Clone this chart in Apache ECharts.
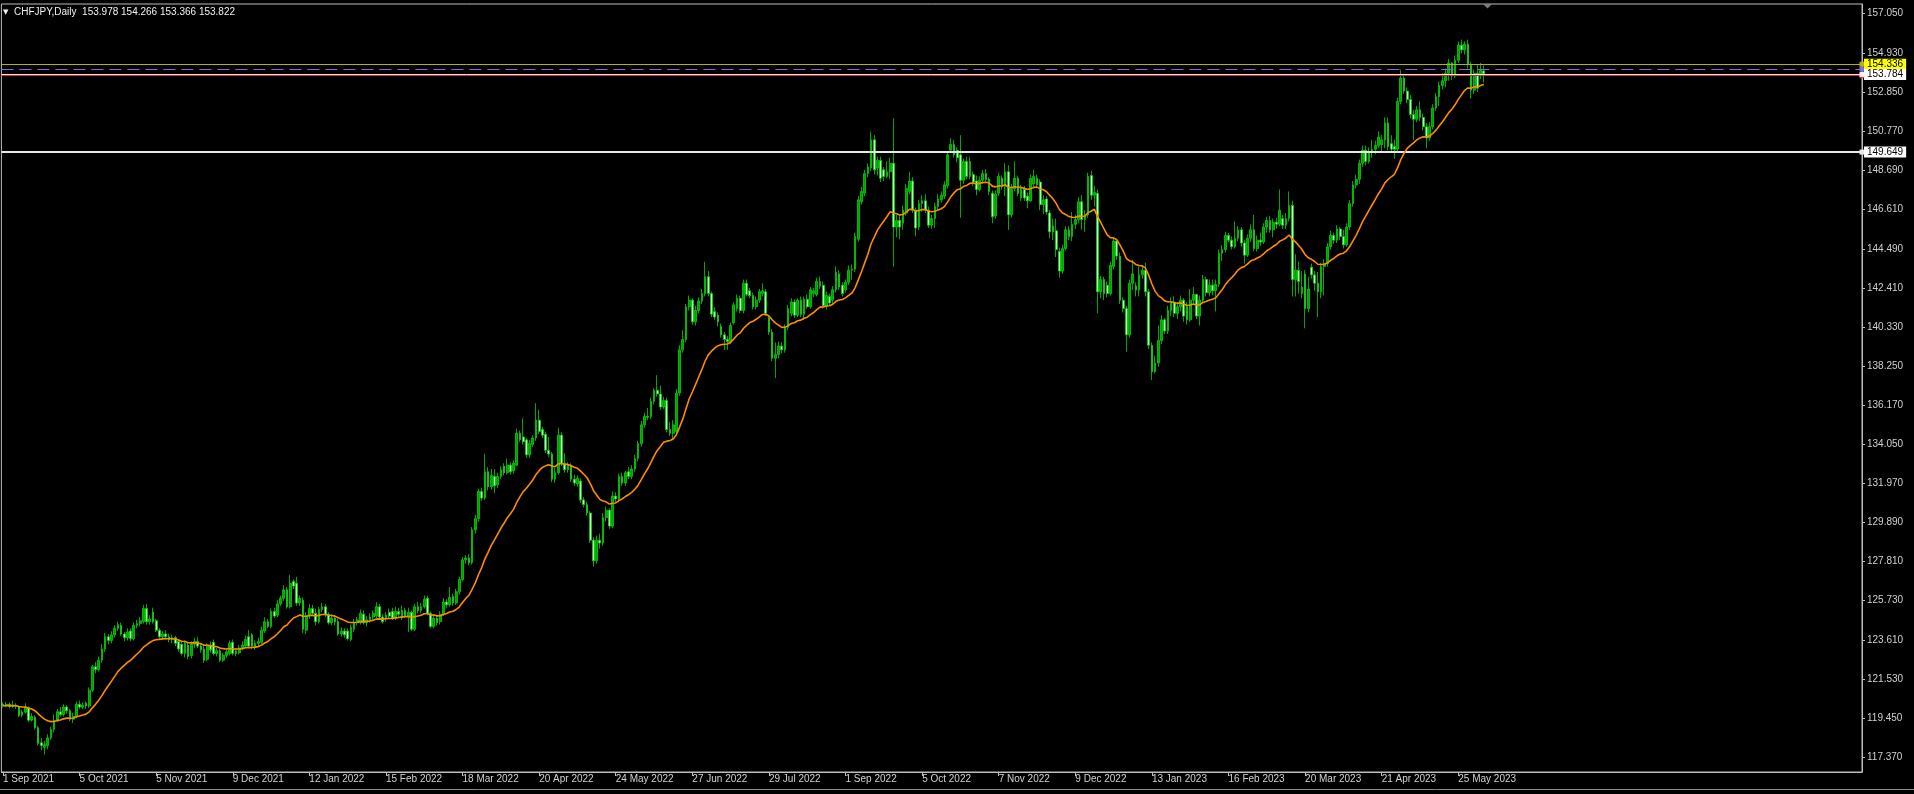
<!DOCTYPE html>
<html><head><meta charset="utf-8">
<script src="https://cdn.jsdelivr.net/npm/echarts@6/dist/echarts.min.js"></script>
<style>html,body{margin:0;padding:0;background:#000;overflow:hidden}#chart{width:1914px;height:794px}</style>
</head><body><div id="chart"></div>
<script>
const symbolName = 'CHFJPY,Daily';
const tickLabels = ['1 Sep 2021','5 Oct 2021','5 Nov 2021','9 Dec 2021','12 Jan 2022','15 Feb 2022','18 Mar 2022','20 Apr 2022','24 May 2022','27 Jun 2022','29 Jul 2022','1 Sep 2022','5 Oct 2022','7 Nov 2022','9 Dec 2022','13 Jan 2023','16 Feb 2023','20 Mar 2023','21 Apr 2023','25 May 2023'];
const barsPerLabel = 24;
const yTickValues = [117.370,119.450,121.530,123.610,125.730,127.810,129.890,131.970,134.050,136.170,138.250,140.330,142.410,144.490,146.610,148.690,150.770,152.850,154.930,157.050];
const levelYellow = 154.336;
const levelDashed = 154.07;
const levelBid = 153.784;
const levelRed = 153.725;
const levelWhite = 149.649;
const maPeriod = 21;

// [open, high, low, close]
const ohlcPart1 = [
[120.20,120.30,120.02,120.12],[120.12,120.33,120.05,120.20],[120.20,120.30,119.98,120.08],[120.08,120.38,120.00,120.15],[120.15,120.25,119.95,120.10],
[120.05,120.12,119.52,119.60],[119.62,119.90,119.50,119.78],[119.78,120.25,119.70,120.05],[120.02,120.08,119.25,119.35],[119.35,119.72,119.28,119.55],
[119.50,119.60,118.85,118.95],[118.95,119.05,118.00,118.12],[118.15,118.40,117.75,118.00],[117.90,118.25,117.52,118.05],[118.00,118.60,117.80,118.40],
[118.40,119.00,118.30,118.85],[118.85,119.65,118.70,119.35],[119.35,119.95,119.25,119.80],[119.80,120.05,119.55,119.65],[119.65,120.20,119.55,120.05],
[120.05,120.15,119.70,119.85],[119.85,119.95,119.30,119.40],[119.40,119.75,119.20,119.55],[119.55,120.35,119.45,120.20],[120.20,120.40,119.95,120.05],
[120.05,120.30,119.95,120.15],[120.25,120.35,119.95,120.10],[120.10,121.10,120.00,120.95],[120.95,122.30,120.85,122.20],[122.20,122.45,121.85,122.05],
[122.05,122.75,121.95,122.55],[122.55,123.40,122.40,123.15],[123.15,124.00,123.00,123.80],[123.80,123.95,123.40,123.60],[123.60,124.10,123.45,123.90],
[123.90,124.40,123.75,124.25],[124.25,124.60,124.10,124.45],[124.40,124.55,123.85,123.95],[123.95,124.05,123.55,123.75],[123.75,124.25,123.60,124.05],
[124.10,124.25,123.55,123.70],[123.70,124.55,123.60,124.40],[124.40,124.70,124.25,124.50],[124.50,124.85,124.35,124.65],[124.60,125.50,124.50,125.30],
[125.30,125.55,124.45,124.60],[124.60,124.95,124.45,124.75],[125.10,125.35,124.50,124.60],[124.65,124.75,124.05,124.15],[124.15,124.25,123.70,123.80],
[123.80,124.10,123.65,123.95],[123.95,124.15,123.65,123.80],[123.80,123.95,123.50,123.65],[123.65,123.90,123.45,123.75],[123.75,123.85,123.30,123.45],
[123.55,123.65,123.00,123.15],[123.40,123.55,122.80,122.90],[122.90,123.60,122.70,123.45],[123.35,123.50,122.60,122.75],[122.80,123.55,122.65,123.40],
[123.40,123.75,123.20,123.55],[123.55,123.80,123.20,123.30],[123.30,123.45,122.95,123.10],[123.15,123.30,122.40,122.55],[122.60,123.45,122.50,123.35],
[123.35,123.55,122.95,123.10],[123.50,123.65,122.80,122.90],[122.90,123.20,122.75,123.05],[123.05,123.15,122.45,122.55],[122.55,122.95,122.45,122.80],
[122.80,123.15,122.65,123.00],[122.90,123.60,122.80,123.45],[123.50,123.65,122.80,122.90],[122.90,123.20,122.75,123.05],[122.95,123.35,122.85,123.20],
[123.20,123.55,123.10,123.35],[123.30,123.85,123.20,123.65],[123.80,124.15,123.20,123.30]
];
const ohlcPart2 = [
[123.90,124.00,123.15,123.30],[123.30,123.60,123.10,123.45],[123.45,123.75,123.25,123.55],[123.50,124.35,123.40,124.15],[124.10,124.85,124.00,124.60],
[124.60,124.75,124.25,124.35],[124.35,125.30,124.25,125.15],[125.15,125.35,124.80,124.90],[124.95,125.75,124.85,125.55],[125.55,126.00,125.45,125.85],
[125.85,126.55,125.70,126.30],[126.30,126.45,125.30,125.40],[125.40,127.10,125.30,126.65],[126.75,126.85,126.35,126.50],[126.65,127.00,125.45,125.60],
[125.60,126.00,125.45,125.85],[125.75,125.90,124.00,124.20],[124.15,125.10,123.95,124.90],[124.90,125.55,124.75,125.30],[125.30,125.50,124.90,125.05],
[125.05,125.30,124.40,124.60],[124.60,125.40,124.50,125.25],[125.25,125.60,125.10,125.40],[125.40,125.55,124.85,125.00],[125.00,125.10,124.45,124.55],
[124.55,125.00,124.40,124.80],[124.80,124.95,124.40,124.60],[124.60,124.75,123.85,123.95],[123.95,124.30,123.80,124.10],[124.10,124.25,123.75,123.90],
[124.10,124.25,123.60,123.70],[123.65,124.45,123.55,124.30],[124.20,124.75,124.05,124.55],[124.55,124.85,124.40,124.70],[124.55,125.25,124.45,125.05],
[125.00,125.20,124.45,124.55],[124.55,124.90,124.35,124.70],[124.70,125.05,124.55,124.85],[124.85,125.20,124.70,125.05],[124.90,125.65,124.80,125.40],
[125.40,125.55,124.75,124.85],[124.85,125.00,124.50,124.60],[124.75,125.10,124.60,124.95],[125.10,125.30,124.75,124.90],[125.15,125.35,124.70,124.80],
[124.80,125.40,124.70,125.15],[125.15,125.35,124.85,125.00],[124.80,125.45,124.70,125.20],[125.20,125.35,124.80,124.90],[124.90,125.35,124.05,125.10],
[125.10,125.20,124.10,124.20],[124.20,125.55,124.10,125.40],[125.40,125.65,125.05,125.20],[125.20,125.60,125.05,125.40],[125.40,126.00,125.30,125.80],
[125.85,126.00,124.95,125.05],[125.05,125.15,124.25,124.35],[124.35,124.95,124.25,124.80],[124.80,124.95,124.40,124.55],[124.60,125.15,124.45,125.00],
[125.00,125.85,124.90,125.65],[125.65,125.80,125.35,125.50],[125.50,126.45,125.40,125.90],[125.95,126.10,125.45,125.60],[125.60,126.35,125.50,126.20],
[126.20,127.00,126.05,126.85],[126.85,128.05,126.75,127.90],[127.90,128.15,127.70,128.00],[128.00,128.20,127.60,127.75],[127.75,129.65,127.65,129.50],
[129.50,130.30,129.30,130.10],[130.10,131.70,129.95,131.55],[131.55,131.75,131.05,131.20],[131.20,133.55,131.10,132.60],[132.60,132.85,131.60,131.80],
[131.80,132.75,131.65,132.40],[132.35,132.75,131.45,131.85]
];
const ohlcPart3 = [
[131.90,132.55,131.75,132.35],[132.35,132.90,132.20,132.70],[132.90,133.05,132.40,132.55],[132.55,133.30,132.45,132.95],[132.95,133.10,132.45,132.60],
[132.65,133.20,132.50,133.05],[132.95,134.90,132.90,134.65],[134.65,134.80,134.20,134.30],[134.45,135.45,134.05,134.20],[134.30,134.40,133.35,133.50],
[133.50,134.30,133.35,134.10],[134.05,134.55,133.90,134.40],[134.40,136.25,134.25,135.35],[135.35,135.90,134.60,134.75],[134.85,135.00,134.40,134.55],
[134.60,134.75,133.60,133.75],[133.75,134.45,133.40,133.55],[133.55,133.65,132.05,132.20],[132.20,132.80,132.00,132.55],[132.55,134.95,132.45,134.55],
[134.55,134.70,132.90,133.05],[133.05,133.60,132.55,132.70],[132.70,133.10,132.55,132.95],[132.95,133.05,132.05,132.20],[132.20,132.45,131.85,132.00],
[131.95,132.40,131.80,132.25],[132.10,132.25,130.95,131.10],[131.10,131.25,130.70,130.85],[130.85,131.00,130.25,130.40],[130.40,130.50,128.80,128.95],
[128.95,129.10,127.55,127.85],[127.85,129.20,127.70,128.95],[128.95,129.30,128.50,128.80],[128.80,130.40,128.65,130.15],[130.15,130.75,129.95,130.55],
[130.55,130.65,129.55,129.70],[129.70,131.55,129.60,131.30],[131.30,131.50,130.95,131.15],[131.15,132.50,131.00,132.35],[132.35,132.55,131.85,132.00],
[132.00,132.65,131.85,132.55],[132.60,132.85,132.20,132.35],[132.35,132.95,132.20,132.75],[132.75,133.50,132.60,133.30],[133.30,134.25,133.15,134.10],
[134.10,135.30,133.95,135.10],[135.10,135.75,134.95,135.55],[135.55,136.00,135.35,135.50],[135.55,136.55,135.40,136.35],[136.35,137.05,136.20,136.95],
[136.95,137.75,136.60,136.75],[136.75,137.20,135.90,136.05],[136.05,136.60,135.95,136.40],[136.40,136.55,134.70,134.85],[134.85,135.25,134.50,134.65],
[134.65,135.35,134.30,135.10],[134.75,137.00,134.60,136.80],[136.80,139.35,136.65,139.10],[139.10,140.15,138.95,139.65],[139.65,141.55,139.50,141.40],
[141.40,142.00,141.20,141.75],[141.75,141.85,140.45,140.60],[140.60,141.45,140.40,141.20],[141.20,141.90,141.05,141.70],[141.70,142.35,141.55,142.10],
[142.10,143.80,141.95,143.00],[143.00,143.30,141.95,142.10],[142.10,142.20,140.85,141.00],[141.15,141.40,140.70,140.85],[140.95,141.10,140.35,140.60],
[140.35,140.50,139.75,139.90],[139.90,140.05,139.10,139.65],[139.65,139.85,139.10,139.55],[139.55,140.55,139.40,140.40],[140.55,141.65,140.45,141.50],
[141.30,142.05,141.15,141.85],[141.85,142.00,141.05,141.20]
];
const ohlcPart4 = [
[141.20,142.85,141.05,142.65],[142.65,142.85,141.95,142.05],[142.25,142.40,141.85,142.00],[142.00,142.15,141.25,141.40],[141.40,141.95,141.25,141.75],
[141.75,142.35,141.60,142.20],[142.10,142.65,141.95,142.25],[142.20,142.35,140.90,141.05],[140.80,140.95,139.90,140.05],[140.05,140.20,138.50,138.65],
[138.65,139.50,137.60,138.85],[138.85,139.55,138.65,139.30],[139.30,139.50,138.90,139.10],[139.10,140.45,138.95,140.25],[140.30,141.50,140.15,141.30],
[141.05,141.85,140.90,141.65],[141.65,141.80,140.80,140.95],[140.95,141.85,140.85,141.75],[141.75,141.95,140.85,141.00],[141.00,141.95,140.70,141.80],
[141.80,142.05,141.30,141.40],[141.40,142.45,141.30,142.30],[142.10,142.40,141.90,142.25],[142.05,142.95,141.95,142.75],[142.50,143.00,142.35,142.75],
[142.55,142.75,141.30,141.45],[141.45,142.20,141.25,142.00],[141.95,142.10,141.45,141.60],[141.75,142.50,141.55,142.30],[142.30,143.55,142.15,143.25],
[143.15,143.35,142.30,142.45],[142.55,142.70,141.95,142.10],[142.30,142.85,142.15,142.70],[142.70,143.60,142.55,143.35],[143.35,143.65,142.85,143.40],
[143.40,145.35,143.25,145.15],[145.00,147.30,144.85,147.10],[147.00,147.80,146.85,147.55],[147.45,148.70,147.30,148.50],[148.50,149.05,148.30,148.85],
[148.80,150.75,148.65,150.30],[150.30,150.55,148.45,148.70],[148.80,149.40,148.40,149.20],[149.20,149.40,148.05,148.25],[148.70,148.85,148.10,148.35],
[148.35,149.15,148.25,148.60],[148.60,149.35,148.20,149.05],[149.05,151.45,143.55,145.65],[145.65,146.30,145.10,146.00],[146.00,146.30,145.00,145.65],
[145.85,146.80,145.50,146.55],[146.40,147.95,146.25,147.70],[147.55,148.60,147.40,148.10],[148.10,148.30,146.40,146.55],[146.55,146.70,145.15,145.60],
[145.65,147.10,145.50,146.90],[146.90,147.35,146.45,147.05],[147.05,147.40,146.40,146.55],[146.55,146.75,145.60,145.75],[145.75,146.30,145.55,146.10],
[146.10,146.95,145.60,146.75],[146.75,147.40,146.55,147.15],[147.10,147.55,146.95,147.35],[147.30,148.10,147.15,147.90],[147.85,149.70,147.70,149.50],
[149.75,150.40,149.60,150.05],[150.05,150.30,149.35,149.50],[149.75,149.90,149.10,149.35],[149.50,150.55,146.15,148.15],[148.15,149.30,147.95,149.15],
[149.15,149.40,148.20,148.35],[148.35,149.40,148.20,149.15],[148.45,148.60,147.85,148.05],[148.10,148.40,147.35,147.65],[147.65,148.35,147.55,148.15],
[148.15,148.70,147.95,148.50]
];
const ohlcPart5 = [
[148.50,148.75,148.05,148.20],[148.20,148.30,147.35,147.55],[147.45,147.60,145.85,146.20],[146.25,147.60,146.10,147.40],[147.45,148.55,147.30,148.35],
[148.25,148.40,147.65,147.80],[147.80,149.05,147.30,148.60],[148.60,148.95,145.50,146.30],[146.30,147.95,146.15,147.70],[147.70,149.15,147.55,148.25],
[148.25,148.40,147.30,147.45],[147.20,147.90,147.05,147.70],[147.65,147.85,147.05,147.20],[147.30,147.50,146.65,147.05],[147.05,148.45,147.00,148.25],
[147.95,148.70,147.80,148.35],[148.25,148.45,147.75,147.90],[148.05,148.20,146.55,146.85],[146.85,147.35,146.35,147.10],[147.15,147.30,146.30,146.45],
[146.40,146.55,145.05,145.40],[145.70,146.10,144.95,145.40],[145.45,146.10,144.05,144.45],[144.35,144.55,142.95,143.30],[143.30,144.70,143.15,144.50],
[144.50,145.70,144.40,145.50],[145.50,145.70,144.95,145.15],[145.15,146.45,144.90,145.80],[145.80,146.30,145.55,146.05],[146.05,147.25,145.85,147.00],
[147.00,147.35,145.50,146.05],[146.05,146.55,145.40,146.30],[146.30,148.55,146.15,148.35],[148.40,148.65,147.10,147.35],[147.35,147.85,146.75,147.50],
[147.45,147.65,141.05,142.20],[142.20,143.05,141.85,142.85],[142.85,143.00,141.75,142.10],[142.55,142.75,141.90,142.10],[142.10,143.80,142.00,143.60],
[143.55,145.10,143.40,144.90],[144.90,144.95,143.90,144.10],[144.10,144.30,141.55,141.75],[141.75,141.90,141.10,141.30],[141.30,141.45,139.00,139.90],
[139.90,142.85,139.75,142.65],[142.65,143.90,142.30,143.15],[142.50,142.70,141.95,142.30],[142.30,143.55,141.95,143.10],[143.10,143.55,142.90,143.35],
[143.35,143.75,141.95,142.20],[142.20,142.35,139.15,139.35],[139.35,139.50,137.50,137.95],[137.95,138.80,137.85,138.40],[138.40,140.40,138.20,139.60],
[139.60,140.95,139.40,140.70],[140.70,140.80,139.95,140.10],[140.10,141.45,139.95,141.20],[141.20,141.90,140.90,141.65],[141.65,141.95,140.85,141.05],
[141.05,141.65,140.75,141.40],[141.40,142.00,141.15,141.75],[141.75,141.85,140.60,140.90],[141.40,141.65,140.45,140.70],[140.70,142.35,140.60,141.75],
[141.75,142.45,141.55,142.05],[142.05,142.10,140.75,140.90],[140.90,142.00,140.40,141.75],[141.75,143.10,141.60,142.85],[142.85,143.00,141.95,142.15],
[142.15,142.85,141.95,142.55],[142.55,142.85,142.00,142.25],[142.25,142.85,141.15,142.60],[142.60,144.45,142.45,144.25],[144.25,144.70,143.85,144.45],
[144.45,145.40,144.30,145.20],[145.20,145.35,144.85,144.95]
];
const ohlcPart6 = [
[144.95,145.15,144.45,144.60],[144.60,145.95,144.50,145.05],[145.05,145.70,144.90,145.50],[145.50,145.65,144.60,144.80],[144.80,144.95,143.70,144.15],
[144.15,145.25,144.05,145.05],[145.05,145.80,144.85,145.50],[145.50,146.30,144.35,144.50],[144.50,145.20,144.35,144.95],[144.95,145.35,144.65,144.85],
[144.85,145.85,144.75,145.65],[145.65,146.20,145.35,146.00],[146.00,146.25,145.35,145.50],[145.50,146.10,145.10,145.90],[145.90,146.15,145.55,145.80],
[145.80,147.65,145.70,146.55],[146.10,146.30,145.55,145.75],[145.75,146.40,145.55,146.10],[146.10,147.55,145.95,146.80],[146.80,147.05,141.95,142.85],
[142.85,144.20,141.95,143.35],[143.35,143.80,142.10,142.75],[142.10,143.30,141.85,142.45],[143.15,143.35,140.25,141.30],[141.30,143.00,141.10,142.35],
[143.50,143.70,142.90,143.10],[143.10,143.30,142.25,142.65],[142.65,143.25,140.85,142.20],[142.20,143.75,141.85,143.55],[143.55,143.95,142.00,143.70],
[143.70,144.80,143.55,144.60],[144.60,145.45,144.45,145.20],[145.20,145.35,144.75,144.95],[144.95,145.75,144.80,145.55],[145.55,145.65,144.95,145.15],
[145.15,145.50,144.50,144.70],[144.70,145.85,144.60,145.65],[145.65,147.10,145.50,146.90],[146.90,148.10,146.75,147.90],[147.90,148.45,147.70,148.20],
[148.20,149.25,147.95,149.05],[149.05,150.00,148.85,149.75],[149.75,150.00,148.95,149.15],[149.15,149.90,149.05,149.65],[149.65,150.30,149.35,149.80],
[149.80,150.25,149.55,150.00],[150.00,150.75,149.85,150.45],[150.05,150.55,149.70,150.30],[150.30,151.50,149.85,151.20],[151.20,151.50,149.75,149.95],
[150.10,150.55,149.70,149.80],[149.95,150.30,149.30,149.80],[149.80,152.55,149.70,152.35],[152.35,154.05,152.20,153.60],[153.60,153.80,152.75,152.90],
[152.90,153.10,152.25,152.45],[152.45,152.70,151.45,151.65],[151.65,151.90,150.30,151.40],[151.40,152.10,151.25,151.90],[151.90,152.35,151.30,151.50],
[151.50,151.70,150.80,151.00],[151.00,151.20,149.85,150.40],[150.40,151.25,150.25,151.00],[151.00,152.20,150.85,152.00],[152.00,152.80,151.85,152.60],
[152.60,153.40,152.10,153.20],[153.20,153.85,153.00,153.45],[153.45,154.10,153.10,153.85],[153.85,154.60,153.45,154.40],[154.40,154.45,153.50,153.70],
[153.70,154.80,153.60,154.55],[154.55,155.55,154.40,155.35],[155.35,155.65,154.90,155.10],[155.10,155.55,154.85,155.40],[155.40,155.65,154.10,154.30],
[154.30,154.45,152.50,152.95],[152.95,154.05,152.75,153.85],[153.85,154.30,152.85,153.05],[153.75,154.40,153.55,154.00],[153.978,154.266,153.366,153.822]
];

const bars = [].concat(ohlcPart1, ohlcPart2, ohlcPart3, ohlcPart4, ohlcPart5, ohlcPart6);
const closes = bars.map(b => b[3]);
const alpha = 2 / (maPeriod + 1);
const maValues = [];
closes.forEach((c, i) => { maValues.push(i === 0 ? c : maValues[i - 1] + alpha * (c - maValues[i - 1])); });
const maSeries = maValues.map(v => +v.toFixed(3));

const categoryCount = 583;
const categories = Array.from({length: categoryCount}, (_, i) => 'b' + i);
const isLabelIndex = (i) => i % barsPerLabel === 0 && (i / barsPerLabel) < tickLabels.length;
const last = bars[bars.length - 1];
const headerText = '{t|▼}  ' + symbolName + '  ' + last.map(v => v.toFixed(3)).join(' ');

const font = "'Liberation Sans', Arial, sans-serif";
const chart = echarts.init(document.getElementById('chart'), null, {renderer: 'canvas'});
const levelLabel = (txt, bg) => ({show: true, position: 'end', formatter: txt, color: '#000', backgroundColor: bg, padding: [1, 3, 0, 3], fontSize: 10, fontFamily: font, distance: 2, lineHeight: 10});

chart.setOption({
  animation: false,
  backgroundColor: '#000',
  title: {text: headerText, left: 3, top: 6, padding: 0, textStyle: {color: '#f0f0f0', fontSize: 10, fontWeight: 'normal', fontFamily: font, lineHeight: 12, rich: {t: {fontSize: 7, color: '#f0f0f0', fontFamily: 'DejaVu Sans'}}}},
  grid: {left: -3.1, right: 52, top: 4, bottom: 22, show: true, borderColor: '#bdbdbd', borderWidth: 1, backgroundColor: '#000'},
  xAxis: {
    type: 'category', data: categories, boundaryGap: true,
    axisLine: {show: true, lineStyle: {color: '#bdbdbd', width: 1}},
    axisTick: {show: true, alignWithLabel: true, interval: (i) => isLabelIndex(i), length: 4, lineStyle: {color: '#bdbdbd'}},
    axisLabel: {show: true, interval: (i) => isLabelIndex(i), formatter: (v, i) => tickLabels[i / barsPerLabel] || '', align: 'left', color: '#d0d0d0', fontSize: 10, fontFamily: font, margin: 2},
    splitLine: {show: false}
  },
  yAxis: {
    type: 'value', position: 'right', min: 116.586, max: 157.546, scale: true,
    axisLine: {show: true, lineStyle: {color: '#bdbdbd'}},
    axisTick: {show: true, customValues: yTickValues, length: 3, lineStyle: {color: '#bdbdbd'}},
    axisLabel: {show: true, customValues: yTickValues, formatter: (v) => v.toFixed(3), color: '#d0d0d0', fontSize: 10, fontFamily: font, margin: 5},
    splitLine: {show: false}
  },
  series: [
    {
      type: 'candlestick', name: symbolName, barWidth: 2.2,
      data: bars.map(b => [b[0], b[3], b[2], b[1]]),
      itemStyle: {color: '#00a000', color0: '#c2ffc2', borderColor: '#00d400', borderColor0: '#00d400', borderWidth: 0.8},
      markLine: {
        silent: true, symbol: ['none', 'rect'], symbolSize: 5, precision: 3, animation: false,
        data: [
          {yAxis: levelYellow, lineStyle: {color: '#b5b500', width: 1, type: 'solid'}, itemStyle: {color: '#ffff00'}, label: levelLabel(levelYellow.toFixed(3), '#ffff00')},
          {yAxis: levelDashed, lineStyle: {color: '#7c6be8', width: 1, type: [12, 6]}, itemStyle: {color: '#e0e0ff'}, label: {show: false}},
          {yAxis: levelRed, lineStyle: {color: '#ff1a1a', width: 1.2, type: 'solid'}, symbol: 'none', label: {show: false}},
          {yAxis: levelBid, lineStyle: {color: '#f4f4f4', width: 1, type: 'solid'}, itemStyle: {color: '#ffffff'}, label: levelLabel(levelBid.toFixed(3), '#ffffff')},
          {yAxis: levelWhite, lineStyle: {color: '#e8e8e8', width: 2, type: 'solid'}, itemStyle: {color: '#ffffff'}, label: levelLabel(levelWhite.toFixed(3), '#ffffff')}
        ]
      }
    },
    {
      type: 'line', name: 'MA', data: maSeries, showSymbol: false, symbol: 'none', smooth: false, z: 5,
      lineStyle: {color: '#ff8c00', width: 1.6}
    }
  ],
  graphic: [
    {type: 'polygon', silent: true, shape: {points: [[1483, 4], [1492, 4], [1487.5, 8.5]]}, style: {fill: '#7a7a7a'}},
    {type: 'line', silent: true, shape: {x1: 0, y1: 789.5, x2: 1914, y2: 789.5}, style: {stroke: '#8a8a8a', lineWidth: 1}}
  ]
});
</script>
</body></html>
